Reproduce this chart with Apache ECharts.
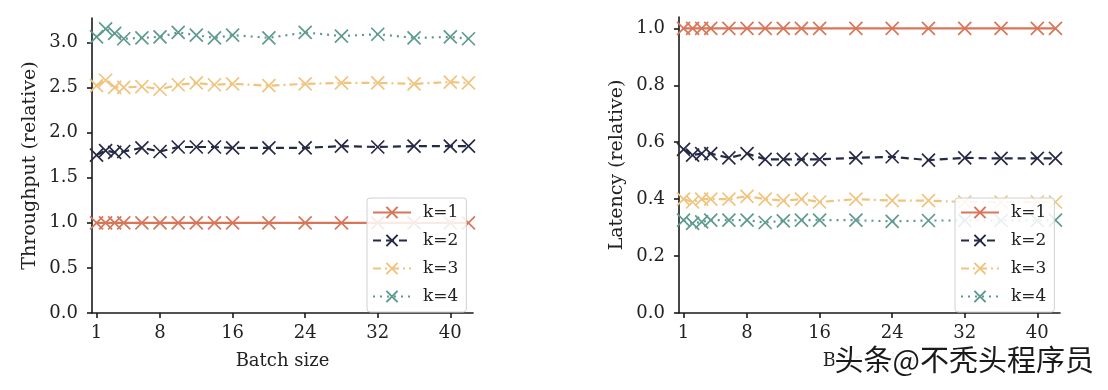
<!DOCTYPE html>
<html>
<head>
<meta charset="utf-8">
<script src="https://cdn.jsdelivr.net/npm/echarts@6/dist/echarts.min.js"></script>
<style>
html,body{margin:0;padding:0;background:#fff;}
#c{width:1108px;height:390px;}
</style>
</head>
<body>
<div id="c"></div>
<script>
// ---- data ----
const batchSizes = [1,2,3,4,6,8,10,12,14,16,20,24,28,32,36,40,42];
const seriesNames = ['k=1','k=2','k=3','k=4'];
const xTicks = [1,8,16,24,32,40];
const throughputTicks = [0,0.5,1.0,1.5,2.0,2.5,3.0];
const latencyTicks = [0,0.2,0.4,0.6,0.8,1.0];

const throughputK1 = [1.0,1.0,1.0,1.0,1.0,1.0,1.0,1.0,1.0,1.0,1.0,1.0,1.0,1.0,1.0,1.0,1.0];
const throughputK2 = [1.75,1.80,1.78,1.79,1.83,1.79,1.84,1.84,1.84,1.83,1.83,1.83,1.85,1.84,1.85,1.85,1.85];
const throughputK3 = [2.52,2.58,2.50,2.50,2.51,2.48,2.53,2.55,2.53,2.54,2.52,2.54,2.55,2.55,2.54,2.56,2.55];
const throughputK4 = [3.06,3.15,3.10,3.04,3.05,3.06,3.11,3.08,3.05,3.08,3.05,3.11,3.07,3.09,3.05,3.06,3.04];

const latencyK1 = [1.0,1.0,1.0,1.0,1.0,1.0,1.0,1.0,1.0,1.0,1.0,1.0,1.0,1.0,1.0,1.0,1.0];
const latencyK2 = [0.575,0.555,0.56,0.56,0.545,0.56,0.54,0.54,0.54,0.54,0.545,0.549,0.537,0.545,0.543,0.543,0.543];
const latencyK3 = [0.40,0.39,0.40,0.40,0.40,0.41,0.40,0.395,0.40,0.39,0.40,0.395,0.395,0.39,0.39,0.39,0.39];
const latencyK4 = [0.326,0.315,0.32,0.326,0.326,0.326,0.318,0.324,0.326,0.326,0.326,0.322,0.325,0.325,0.325,0.325,0.326];

// ---- styles ----
const colors = ['#d8765a','#262a45','#f0c47e','#5e9a90'];
const dashes = ['solid',[8,5],[8,4,2,4],[2,5]];
const FONT = 'DejaVu Serif';
const XSYM = 'path://M0,0L10,10M10,0L0,10';

function pairs(ys){ return batchSizes.map((x,i)=>[x, ys[i]]); }

function mkSeries(name, ys, idx, axisIdx){
  return {
    type:'line', name:name,
    xAxisIndex:axisIdx, yAxisIndex:axisIdx,
    data:pairs(ys),
    symbol:XSYM, symbolSize:13,
    itemStyle:{color:colors[idx], borderColor:colors[idx], borderWidth:1.7},
    lineStyle:{color:colors[idx], width:2.2, type:dashes[idx]},
    z:2+idx
  };
}

const axisLineStyle = {show:true, lineStyle:{color:'#1a1a1a', width:1.6}};
const tickStyle = {show:true, inside:false, length:5, lineStyle:{color:'#1a1a1a', width:1.6}};
const labelText = {color:'#222', fontFamily:FONT, fontSize:18};

function xAxis(gi){
  return {
    type:'value', gridIndex:gi, min:0.5, max:42.5,
    name:'Batch size', nameLocation:'middle', nameGap:39,
    nameTextStyle:{color:'#222', fontFamily:FONT, fontSize:18},
    axisLine:axisLineStyle,
    axisTick:Object.assign({customValues:xTicks}, tickStyle),
    axisLabel:Object.assign({customValues:xTicks, margin:11}, labelText),
    splitLine:{show:false}
  };
}
function yAxis(gi, max, ticks, name, gap){
  return {
    type:'value', gridIndex:gi, min:0, max:max,
    name:name, nameLocation:'middle', nameGap:gap, nameRotate:90,
    nameTextStyle:{color:'#222', fontFamily:FONT, fontSize:19},
    axisLine:axisLineStyle,
    axisTick:Object.assign({customValues:ticks}, tickStyle),
    axisLabel:Object.assign({customValues:ticks, margin:14, formatter:v=>v.toFixed(1)}, labelText),
    splitLine:{show:false}
  };
}
function legend(left){
  return {
    orient:'vertical', left:left, top:198,
    data:seriesNames,
    itemWidth:38, itemHeight:14, itemGap:11,
    padding:[6,8,7,5],
    backgroundColor:'rgba(255,255,255,0.85)',
    borderColor:'#d0d0d0', borderWidth:1, borderRadius:3,
    textStyle:{color:'#222', fontFamily:FONT, fontSize:17, padding:[0,0,0,7]},
    selectedMode:false, z:20
  };
}

const chart = echarts.init(document.getElementById('c'), null, {renderer:'canvas'});
chart.setOption({
  animation:false,
  backgroundColor:'#fff',
  grid:[
    {left:92, right:635, top:18, bottom:77},
    {left:679, right:48, top:17, bottom:77}
  ],
  xAxis:[xAxis(0), xAxis(1)],
  yAxis:[
    yAxis(0, 3.27, throughputTicks, 'Throughput (relative)', 52),
    yAxis(1, 1.04, latencyTicks, 'Latency (relative)', 52)
  ],
  legend:[legend(367), legend(955)],
  series:[
    mkSeries('k=1', throughputK1, 0, 0),
    mkSeries('k=2', throughputK2, 1, 0),
    mkSeries('k=3', throughputK3, 2, 0),
    mkSeries('k=4', throughputK4, 3, 0),
    mkSeries('k=1', latencyK1, 0, 1),
    mkSeries('k=2', latencyK2, 1, 1),
    mkSeries('k=3', latencyK3, 2, 1),
    mkSeries('k=4', latencyK4, 3, 1)
  ],
  graphic:[{
    type:'text', left:833, top:344, z:100,
    style:{
      text:'头条@不秃头程序员',
      font:'29px "Noto Sans CJK SC"',
      fill:'#1a1a1a',
      stroke:'#ffffff', lineWidth:3,
      backgroundColor:'rgba(255,255,255,0.92)'
    }
  }]
});
</script>
</body>
</html>
